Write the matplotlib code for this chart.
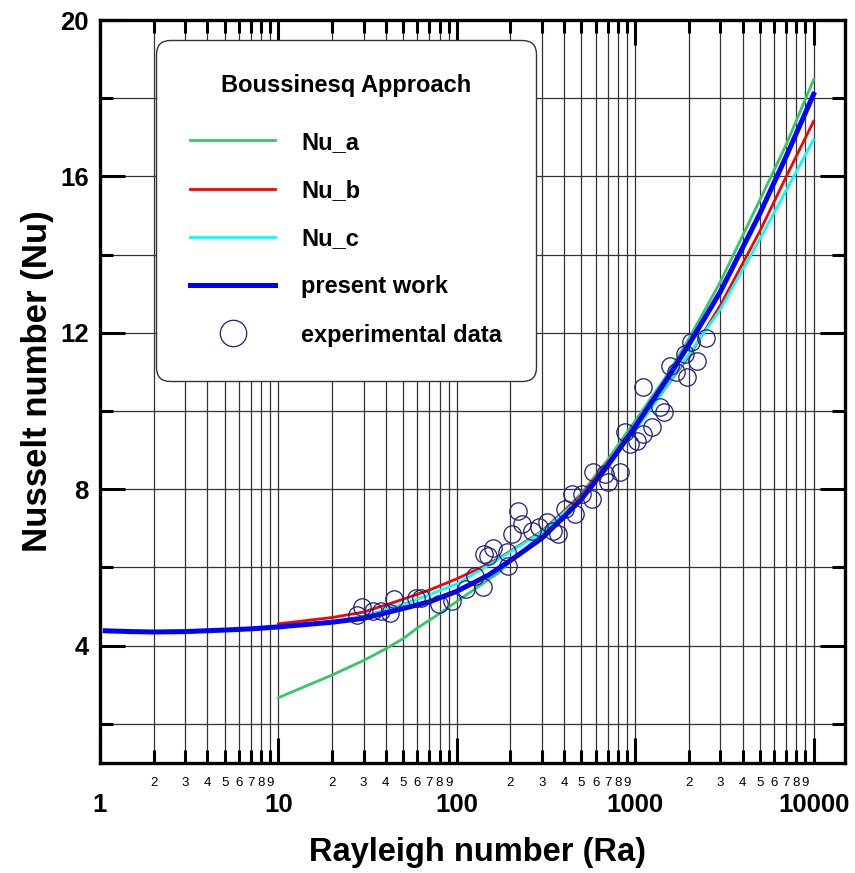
import numpy as np
import matplotlib
matplotlib.use("Agg")
import matplotlib.pyplot as plt
from matplotlib.lines import Line2D

plt.rcParams['font.family'] = ['Liberation Sans', 'DejaVu Sans']

# Nu_a
ra_a = [10, 20, 30, 40, 50, 60, 80, 100, 135, 170, 200, 300, 500, 700, 1000, 1500, 2000, 3000, 5000, 7000, 10000]
nu_a = [2.67, 3.25, 3.62, 3.92, 4.18, 4.45, 4.82, 5.13, 5.54, 5.85, 6.15, 6.85, 7.9, 8.75, 9.75, 10.9, 11.85, 13.3, 15.4, 16.8, 18.47]

# Nu_b
ra_b = [10, 20, 30, 48, 70, 100, 140, 170, 200, 300, 500, 1000, 2000, 3000, 5000, 7000, 10000]
nu_b = [4.56, 4.72, 4.86, 5.16, 5.42, 5.71, 6.02, 6.22, 6.42, 6.93, 7.85, 9.55, 11.4, 12.7, 14.6, 15.98, 17.41]

# Nu_c
ra_c = [10, 20, 30, 48, 70, 100, 150, 200, 300, 500, 1000, 2000, 3000, 5000, 7000, 10000]
nu_c = [4.5, 4.62, 4.75, 5.03, 5.3, 5.58, 6.05, 6.40, 6.91, 7.8, 9.5, 11.45, 12.6, 14.4, 15.63, 16.94]

# present work
ra_p = [1.07, 1.5, 2, 3, 5, 7, 10, 20, 30, 48, 70, 100, 150, 200, 300, 400, 500, 700, 1000, 1500, 2000, 3000, 5000, 7000, 10000]
nu_p = [4.38, 4.36, 4.35, 4.36, 4.40, 4.43, 4.48, 4.60, 4.70, 4.93, 5.12, 5.39, 5.8, 6.18, 6.75, 7.3, 7.75, 8.6, 9.6, 10.8, 11.7, 13.05, 15.05, 16.5, 18.1]

# experimental data
ra_exp = [27.5, 29.4, 33.8, 37.5, 42.1, 44.4, 58.9, 62.9, 79.3, 93.8, 112, 126, 140, 142, 149,
          159, 191, 193, 220, 203, 231, 263, 288, 319, 345, 368, 403, 441, 458, 501, 570, 578,
          675, 702, 819, 873, 932, 1019, 1101, 1237, 1101, 1372, 1445, 1561, 1687, 1894, 1945,
          2047, 2213, 2485]
nu_exp = [4.79, 5.00, 4.89, 4.89, 4.84, 5.20, 5.23, 5.23, 5.07, 5.15, 5.46, 5.79, 5.51, 6.35, 6.30,
          6.50, 6.40, 6.04, 7.45, 6.86, 7.11, 6.94, 7.04, 7.17, 6.94, 6.86, 7.50, 7.88, 7.37, 7.88,
          7.75, 8.44, 8.39, 8.19, 8.44, 9.46, 9.16, 9.23, 9.41, 9.59, 10.61, 10.10, 9.97, 11.15,
          11.00, 11.45, 10.87, 11.76, 11.28, 11.86]

x_major = [1, 10, 100, 1000, 10000]
x_minor = [m * 10 ** d for d in range(4) for m in range(2, 10)]
x_minor_labels = [str(m) for d in range(4) for m in range(2, 10)]
y_major = [4, 8, 12, 16, 20]
y_minor = [2, 6, 10, 14, 18]

c_a = '#33c966'
c_b = '#ff0000'
c_c = '#00ffff'
c_p = '#0000ff'
c_exp = '#1c1c7c'

fig = plt.figure(figsize=(8.55, 8.73), dpi=100)
ax = fig.add_axes([100 / 855, 1 - 763 / 873, 745 / 855, 743 / 873])

ax.plot(ra_a, nu_a, color=c_a, lw=2.0, zorder=3)
ax.plot(ra_b, nu_b, color=c_b, lw=2.0, zorder=3)
ax.plot(ra_c, nu_c, color=c_c, lw=2.0, zorder=3)
ax.plot(ra_p, nu_p, color=c_p, lw=3.6, zorder=4)
ax.plot(ra_exp, nu_exp, 'o', ms=12.5, mfc='none', mec=c_exp, mew=0.9, zorder=5)

ax.set_xscale('log')
ax.set_xlim(1, 15000)
ax.set_ylim(1, 20)

ax.set_xticks(x_major, [str(v) for v in x_major], fontsize=18.5, fontweight='bold')
ax.set_xticks(x_minor, x_minor_labels, minor=True, fontsize=9.5)
ax.set_yticks(y_major, [str(v) for v in y_major], fontsize=18.5, fontweight='bold')
ax.set_yticks(y_minor, minor=True)

ax.tick_params(axis='x', which='major', direction='in', length=18, width=2.2, top=True, pad=21.5)
ax.tick_params(axis='x', which='minor', direction='in', length=9.5, width=2.2, top=True, pad=10)
ax.tick_params(axis='y', which='major', direction='in', length=18, width=2.2, right=True, pad=8)
ax.tick_params(axis='y', which='minor', direction='in', length=9.5, width=2.2, right=True)

ax.grid(True, which='both', color='0.2', lw=0.9)
ax.set_axisbelow(True)
for s in ax.spines.values():
    s.set_linewidth(2.4)

ax.set_xlabel('Rayleigh number (Ra)', fontsize=23.5, fontweight='bold', va='center')
ax.xaxis.set_label_coords(0.507, -0.12)
ax.set_ylabel('Nusselt number (Nu)', fontsize=25, fontweight='bold', va='center')
ax.yaxis.set_label_coords(-0.084, 0.514)

handles = [
    Line2D([], [], color=c_a, lw=2.0),
    Line2D([], [], color=c_b, lw=2.0),
    Line2D([], [], color=c_c, lw=2.0),
    Line2D([], [], color=c_p, lw=3.6),
    Line2D([], [], ls='none', marker='o', ms=19, mfc='none', mec=c_exp, mew=0.9),
]
labels = ['Nu_a', 'Nu_b', 'Nu_c', 'present work', 'experimental data']
leg = ax.legend(handles, labels, title='Boussinesq Approach', loc='upper left',
                bbox_to_anchor=(0.075, 0.973), borderaxespad=0,
                prop={'size': 17, 'weight': 'bold'},
                title_fontproperties={'size': 17, 'weight': 'bold'},
                handlelength=3.6, handletextpad=1.1, labelspacing=1.07, borderpad=1.45,
                framealpha=1, fancybox=True, edgecolor='0.2')
leg.get_frame().set_boxstyle('round', pad=0, rounding_size=0.6)
leg.get_frame().set_linewidth(1.0)
leg._legend_box.sep = 24
leg.set_zorder(10)

fig.savefig('out.png', dpi=100)
